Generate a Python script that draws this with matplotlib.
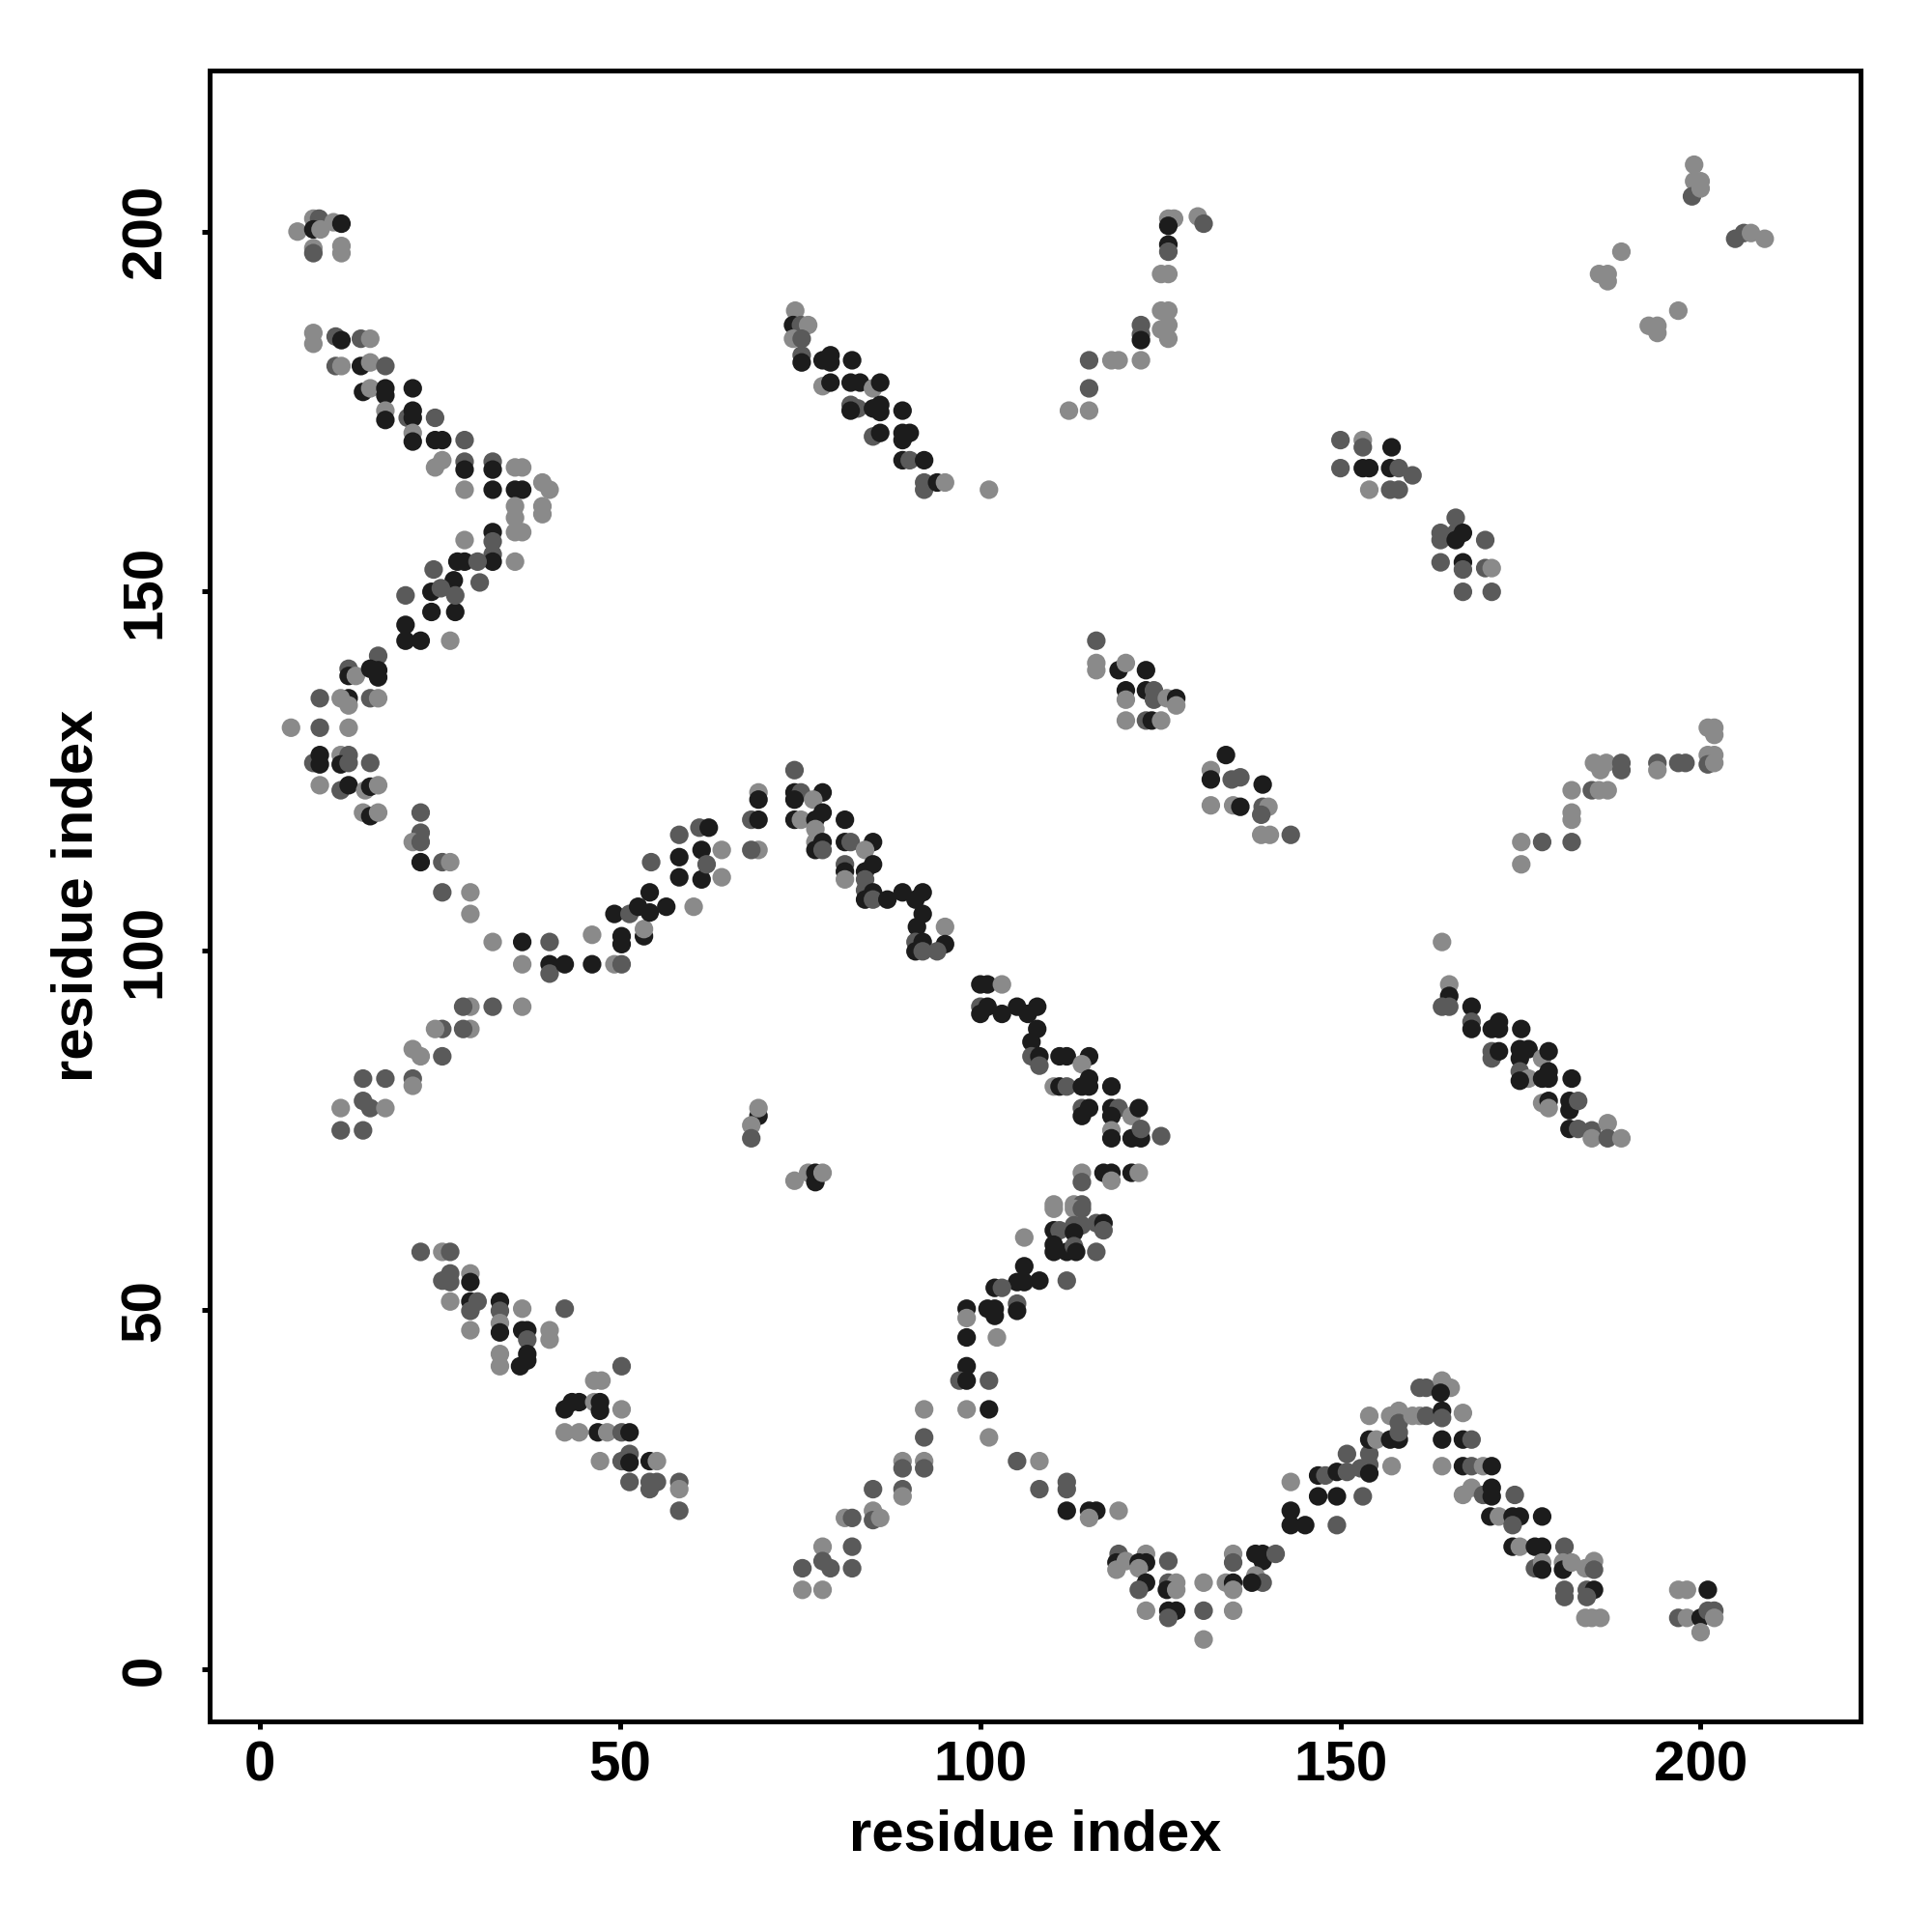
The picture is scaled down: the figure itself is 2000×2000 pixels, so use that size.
import matplotlib
matplotlib.use("Agg")
import matplotlib.pyplot as plt

# contact points: (residue i, residue j, shade)
# shade: d = dark, m = mid grey, l = light grey
top_left_cap = [(5.2,200.0,'l'),(7.4,201.8,'l'),(8.2,201.8,'m'),(7.4,200.3,'d'),(8.4,200.3,'l'),
    (10.2,201.3,'l'),(11.3,201.1,'d'),(7.4,197.7,'l'),(7.4,197.0,'m'),(11.3,198.0,'l'),(11.3,197.0,'l')]

top_left_diag = [(7.4,185.9,'l'),(7.4,184.4,'l'),(10.5,185.4,'m'),(11.3,184.9,'d'),(14.0,185.1,'m'),(15.3,185.1,'l'),
    (10.5,181.3,'m'),(11.3,181.3,'l'),(14.0,181.3,'d'),(15.3,181.8,'l'),(17.4,181.3,'m'),
    (14.3,177.7,'d'),(15.3,178.2,'l'),(17.4,178.2,'d'),(17.4,177.2,'d'),(21.2,178.2,'d'),
    (17.4,175.1,'l'),(17.4,173.8,'d'),(20.5,174.1,'m'),(21.2,175.1,'d'),(21.2,174.1,'d'),(24.3,174.1,'m'),
    (21.2,172.0,'l'),(21.2,170.8,'d'),(24.3,171.0,'d'),(25.3,171.0,'d'),(28.4,171.0,'m'),
    (24.3,167.2,'l'),(25.3,168.2,'l'),(28.4,168.0,'m'),(28.4,166.9,'d'),(32.3,168.0,'m'),(32.3,166.9,'d'),
    (35.4,167.2,'l'),(36.4,167.2,'l'),(28.4,164.1,'l'),(32.3,164.1,'d'),(35.4,164.1,'d'),(36.4,164.1,'d'),
    (39.2,165.1,'l'),(40.2,164.1,'l'),(35.4,161.8,'l'),(35.4,160.2,'l'),(39.2,161.8,'l'),(39.2,160.7,'l')]

top_left_arm = [(32.3,158.2,'d'),(32.3,156.9,'m'),(35.4,158.2,'l'),(36.4,158.2,'l'),(32.3,155.1,'m'),(32.3,154.1,'d'),
    (35.4,154.1,'l'),(28.4,157.1,'l'),(24.1,153.0,'m'),(27.4,154.1,'d'),(28.4,154.1,'d'),(30.2,154.1,'m'),
    (30.5,151.2,'m'),(26.9,151.5,'d'),(23.8,149.9,'d'),(25.1,150.4,'m'),(27.1,147.1,'d'),(23.8,147.1,'d'),
    (27.1,149.4,'m'),(20.2,149.4,'m'),(20.2,145.3,'d')]

left_arc = [(20.2,143.1,'d'),(22.3,143.1,'d'),(26.4,143.1,'l'),
    (16.4,141.0,'m'),(12.3,139.2,'m'),(12.3,138.2,'d'),(13.3,138.2,'l'),(15.3,139.2,'d'),(16.4,139.0,'d'),(16.4,138.0,'d'),
    (8.3,135.1,'m'),(12.3,135.1,'d'),(11.2,135.1,'l'),(12.3,134.1,'l'),(15.3,135.1,'m'),(16.4,135.1,'l'),
    (4.3,131.0,'l'),(8.3,131.0,'m'),(12.3,131.0,'l'),
    (7.4,126.1,'m'),(8.3,127.2,'d'),(8.3,125.9,'d'),(11.2,127.2,'l'),(12.3,127.2,'m'),(11.2,125.9,'d'),(12.3,126.1,'m'),(15.3,126.1,'m'),
    (8.3,123.0,'l'),(11.2,122.3,'m'),(12.3,123.0,'d'),(14.6,122.3,'l'),(15.3,122.8,'d'),(16.4,123.0,'l'),
    (14.3,119.2,'l'),(15.3,118.7,'d'),(16.4,119.2,'l'),
    (22.3,119.2,'m'),(22.3,116.4,'m'),(21.2,115.1,'l'),(22.3,115.1,'m'),
    (22.3,112.3,'d'),(25.3,112.3,'m'),(26.4,112.3,'l'),
    (25.3,108.1,'m'),(29.2,108.1,'l'),(29.2,105.1,'l'),
    (32.3,101.2,'l'),(36.4,101.2,'d'),(40.2,101.2,'m'),
    (36.4,98.1,'l'),(40.2,98.1,'d'),(40.2,96.8,'m'),(42.3,98.1,'d')]

middle_arc = [(46.1,98.1,'d'),(49.2,98.1,'l'),(50.2,98.1,'m'),(46.1,102.2,'l'),
    (49.2,105.1,'d'),(50.2,102.0,'d'),(50.2,100.9,'d'),(51.3,105.1,'m'),(53.3,102.0,'d'),(53.3,103.0,'l'),
    (52.5,106.1,'d'),(54.1,108.1,'d'),(54.1,105.3,'d'),(56.4,106.1,'d'),(60.2,106.1,'l'),
    (54.3,112.3,'m'),(58.2,116.1,'m'),(58.2,113.0,'d'),(58.2,110.2,'d'),(61.0,117.1,'m'),(62.3,117.1,'d'),
    (61.3,114.0,'d'),(61.3,109.9,'d'),(64.1,114.0,'l'),(64.1,110.2,'l'),(62.0,112.0,'m'),
    (68.2,118.2,'m'),(69.2,122.0,'l'),(69.2,121.0,'d'),(69.2,118.2,'d'),(69.2,114.0,'l'),(68.2,114.0,'m')]

lower_left_arm = [(36.4,92.2,'l'),(32.3,92.2,'m'),(29.2,92.2,'l'),(28.2,92.2,'m'),(29.2,89.1,'l'),(28.2,89.1,'m'),
    (25.3,89.1,'m'),(24.3,89.1,'l'),(21.2,86.3,'l'),(22.3,85.3,'l'),(25.3,85.3,'m'),(21.2,82.2,'m'),(21.2,81.2,'l'),
    (17.4,82.2,'m'),(14.3,82.2,'m'),(14.3,79.1,'m'),(15.3,78.1,'m'),(17.4,78.1,'l'),(11.2,78.1,'l'),
    (11.2,75.0,'m'),(14.3,75.0,'m')]

isolated = [(69.2,77.0,'d'),(68.2,75.7,'l'),(68.2,73.9,'m'),(69.2,78.1,'l'),
    (74.2,68.0,'l'),(76.1,69.1,'l'),(77.1,69.1,'d'),(77.1,67.8,'d'),(78.1,69.1,'l'),
    (101.2,164.1,'l'),(164.1,101.2,'l')]

top_mid_diag = [(74.3,189.0,'l'),(74.0,187.0,'d'),(75.1,187.0,'m'),(76.1,187.0,'l'),(74.0,185.1,'l'),(75.2,185.1,'m'),
    (75.2,182.8,'m'),(75.2,181.8,'d'),(78.1,182.1,'d'),(79.2,182.8,'d'),(79.2,181.8,'d'),(82.2,182.1,'d'),
    (78.1,178.5,'l'),(79.2,179.0,'d'),(82.0,179.0,'d'),(83.3,179.0,'d'),(85.1,178.2,'l'),(86.1,179.0,'d'),
    (82.0,175.9,'m'),(83.0,175.4,'m'),(82.0,175.1,'d'),(85.1,175.4,'d'),(86.1,175.9,'d'),(86.1,174.9,'d'),(89.2,175.1,'d'),
    (85.1,171.5,'m'),(86.1,172.0,'d'),(89.2,172.0,'d'),(90.2,172.0,'d'),(89.2,171.0,'d'),
    (89.2,168.2,'d'),(90.2,168.2,'m'),(92.2,168.2,'d'),
    (92.2,165.1,'m'),(92.2,164.1,'m'),(94.0,165.1,'d'),(95.1,165.1,'l')]

top_mid_arm = [(126.1,201.8,'l'),(126.9,201.8,'l'),(126.1,200.8,'d'),(130.2,202.1,'l'),(131.0,201.1,'m'),
    (126.1,198.2,'d'),(126.1,197.2,'m'),(125.1,194.1,'l'),(126.1,194.1,'l'),
    (125.1,189.0,'l'),(126.1,189.0,'l'),(125.1,186.4,'l'),(126.1,187.0,'l'),(126.1,185.1,'l'),
    (122.3,187.0,'m'),(122.3,185.7,'m'),(122.3,184.9,'d'),
    (115.1,182.1,'m'),(118.2,182.1,'l'),(119.2,182.1,'l'),(122.3,182.1,'l'),
    (115.1,178.2,'m'),(112.3,175.1,'l'),(115.1,175.1,'l')]

top_right = [(199.1,209.3,'l'),(199.1,207.0,'l'),(200.0,207.0,'l'),(198.8,204.9,'m'),(200.0,206.0,'l'),
    (204.8,199.0,'m'),(206.0,199.8,'m'),(207.0,199.8,'l'),(208.9,199.0,'l'),
    (189.0,197.2,'l'),(185.9,194.1,'l'),(187.1,194.1,'l'),(187.1,193.1,'l'),
    (196.9,189.0,'l'),(192.8,186.9,'l'),(194.0,186.9,'l'),(194.0,185.9,'l')]

right_blocks = [(150.0,171.0,'m'),(153.1,171.0,'l'),(153.1,170.0,'m'),(157.1,170.0,'d'),
    (150.0,167.1,'m'),(153.1,167.1,'d'),(154.0,167.1,'d'),(156.9,167.1,'d'),(158.1,167.1,'m'),(160.0,166.1,'m'),
    (154.0,164.1,'l'),(156.9,164.1,'m'),(158.1,164.1,'m'),
    (166.0,160.2,'m'),(163.9,158.1,'m'),(166.0,158.1,'m'),(167.0,158.1,'d'),(163.9,157.1,'m'),(166.0,157.1,'d'),
    (170.1,157.1,'m'),(163.9,154.0,'m'),(167.0,154.0,'d'),(167.0,153.0,'m'),(170.1,153.2,'m'),(171.0,153.2,'l'),
    (167.0,149.9,'m'),(171.0,149.9,'m')]

mid_blocks = [(116.1,143.1,'m'),(116.1,140.0,'l'),(116.1,139.0,'l'),(119.2,139.0,'d'),(120.2,140.0,'l'),(123.0,139.0,'d'),
    (120.2,136.2,'d'),(120.2,134.9,'l'),(123.0,136.2,'d'),(124.1,136.2,'m'),(124.1,134.9,'m'),(125.9,135.1,'l'),
    (127.2,135.1,'d'),(127.2,134.1,'l'),(120.2,132.0,'l'),(123.0,132.0,'m'),(123.8,132.0,'d'),(125.1,132.0,'l'),
    (134.1,127.2,'d'),(132.0,125.1,'l'),(132.0,123.8,'d'),(134.9,123.8,'m'),(136.1,124.1,'m'),(139.2,123.1,'d'),
    (132.0,120.2,'l'),(135.1,120.2,'l'),(136.1,120.0,'d'),(139.2,120.0,'m'),(140.0,120.0,'l'),(139.0,118.9,'m'),
    (139.0,116.1,'l'),(140.2,116.1,'l'),(143.1,116.1,'m')]

mid_diag_a = [(74.2,125.1,'m'),(74.2,122.0,'d'),(75.1,122.0,'m'),(78.1,122.0,'d'),(74.2,121.0,'d'),(76.8,121.0,'l'),
    (74.2,118.2,'d'),(75.1,118.2,'l'),(77.1,118.2,'d'),(78.1,119.2,'d'),(81.2,118.2,'d'),(77.1,116.9,'l'),
    (77.1,115.1,'l'),(78.1,115.1,'d'),(77.1,114.0,'d'),(78.1,114.0,'m'),(81.2,115.1,'d'),(82.0,115.1,'m'),
    (85.1,115.1,'d'),(84.0,114.0,'l'),(81.2,112.0,'m'),(81.2,111.0,'d'),(81.2,109.9,'l'),(84.0,111.0,'d'),
    (85.1,112.0,'d'),(84.0,109.9,'m'),(84.0,108.4,'m'),(85.1,108.1,'d'),(84.0,107.1,'d'),(85.1,107.1,'m'),
    (87.1,107.1,'d'),(89.2,108.1,'d'),(92.0,108.1,'d'),(91.0,107.1,'d'),(92.0,105.1,'d'),(91.2,103.3,'d'),
    (95.1,103.3,'l'),(91.0,101.2,'m'),(92.0,101.2,'d'),(95.1,100.9,'d'),(91.0,99.9,'d'),(92.0,99.9,'m'),(94.0,99.9,'m')]

mid_diag_b = [(100.0,95.3,'d'),(101.0,95.3,'d'),(103.0,95.3,'l'),(100.0,92.2,'m'),(101.0,92.2,'d'),(100.0,91.2,'d'),
    (103.0,91.2,'d'),(105.1,92.2,'d'),(107.9,92.2,'d'),(106.6,91.2,'d'),(107.9,89.1,'d'),(107.1,87.3,'d'),
    (107.1,85.3,'m'),(108.2,85.3,'d'),(108.2,84.0,'m'),(111.0,85.3,'d'),(112.0,85.3,'d'),(115.1,85.3,'d'),(114.1,84.2,'l'),
    (110.2,81.1,'l'),(111.0,81.1,'d'),(112.0,81.1,'m'),(114.1,81.1,'d'),(115.1,82.2,'d'),(115.1,81.1,'d'),(118.2,81.1,'d'),
    (114.1,78.1,'m'),(114.1,77.0,'d'),(115.1,78.1,'d'),(118.2,78.1,'d'),(119.2,78.1,'m'),(118.2,77.0,'d'),
    (121.0,77.0,'l'),(122.0,78.1,'d'),(118.2,75.0,'l'),(118.2,73.9,'d'),(121.0,73.9,'d'),(122.3,73.9,'d'),
    (122.3,75.2,'m'),(125.1,74.2,'m'),
    (114.1,69.1,'l'),(114.1,67.8,'m'),(117.1,69.1,'d'),(118.2,69.1,'d'),(118.2,68.0,'l'),(121.0,69.1,'d'),(122.0,69.1,'l'),
    (110.2,64.7,'l'),(113.0,64.7,'l'),(114.1,64.7,'m')]

right_diag = [(165.1,95.3,'l'),(165.1,93.7,'d'),(164.1,92.2,'m'),(165.1,92.2,'m'),
    (168.2,92.2,'d'),(168.2,90.1,'m'),(168.2,89.1,'d'),(171.0,89.1,'d'),(172.0,90.1,'d'),(175.1,89.1,'d'),(172.0,89.1,'d'),
    (171.0,86.0,'m'),(171.0,85.0,'m'),(172.0,86.0,'d'),(174.9,86.3,'d'),(176.1,86.3,'d'),(174.9,85.0,'d'),
    (178.0,85.0,'l'),(178.9,86.0,'d'),(174.9,83.2,'m'),(176.1,82.2,'l'),(174.9,81.9,'d'),(178.0,82.2,'d'),
    (178.9,83.2,'d'),(178.9,82.2,'d'),(182.1,82.2,'d'),(178.0,78.8,'l'),(178.9,79.1,'d'),(178.9,78.1,'l'),
    (181.8,79.1,'d'),(181.8,77.8,'d'),(183.0,79.1,'m'),(181.8,75.2,'d'),(183.0,75.2,'m'),(184.9,75.0,'m'),
    (184.9,73.9,'l'),(187.1,76.0,'l'),(187.1,73.9,'m'),(189.0,73.9,'l')]

right_arm = [(201.0,131.0,'l'),(201.9,131.0,'l'),(201.9,130.0,'l'),(201.0,127.2,'l'),(201.9,127.2,'l'),
    (201.0,125.9,'m'),(201.9,126.1,'l'),(196.9,126.1,'m'),(197.9,126.1,'m'),(194.0,126.1,'m'),(194.0,125.1,'l'),
    (185.2,126.1,'l'),(186.9,126.1,'l'),(189.0,126.1,'m'),(186.1,125.1,'l'),(189.0,125.1,'m'),
    (182.1,122.3,'l'),(184.9,122.3,'m'),(185.9,122.3,'l'),(187.1,122.3,'l'),
    (182.1,119.2,'l'),(182.1,118.2,'l'),(182.1,115.1,'m'),(175.1,115.1,'l'),(178.0,115.1,'m'),(175.1,112.0,'l')]

bottom_left_diag = [(22.3,58.1,'m'),(25.3,58.1,'l'),(26.4,58.1,'m'),
    (25.3,54.1,'m'),(26.4,55.1,'m'),(26.4,53.9,'m'),(29.2,55.1,'l'),(29.2,53.9,'d'),
    (26.4,51.2,'l'),(29.2,51.2,'d'),(29.2,49.9,'m'),(30.2,51.2,'m'),(33.3,51.2,'d'),(33.3,49.9,'m'),(36.4,50.2,'l'),(42.3,50.2,'m'),
    (29.2,47.2,'l'),(33.3,48.2,'l'),(33.3,46.9,'d'),(36.4,47.2,'d'),(37.1,47.2,'d'),(37.1,45.9,'m'),(40.2,47.2,'l'),(40.2,45.9,'l'),
    (33.3,43.9,'l'),(33.3,42.2,'l'),(37.1,43.9,'d'),(37.1,43.0,'d'),(36.1,42.2,'d'),
    (50.2,42.2,'m'),(46.4,40.2,'l'),(47.4,40.2,'l'),
    (42.3,36.2,'d'),(43.3,37.2,'d'),(44.3,37.2,'d'),(46.4,37.2,'l'),(47.2,37.2,'d'),(47.2,36.0,'d'),(50.2,36.2,'l'),
    (42.3,33.0,'l'),(44.3,33.0,'l'),(46.9,33.0,'d'),(48.2,33.0,'l'),(50.2,33.0,'m'),(51.3,33.0,'d'),
    (47.2,29.0,'l'),(50.2,29.0,'m'),(51.3,30.0,'m'),(51.3,28.8,'d'),(54.1,29.0,'d'),(55.1,29.0,'l'),
    (51.3,26.1,'m'),(54.1,26.1,'m'),(54.1,25.1,'m'),(55.1,26.1,'m'),(58.2,26.1,'m'),(58.2,25.1,'l'),(58.2,22.1,'m')]

bottom_mid_up = [(110.2,64.1,'l'),(113.0,64.1,'l'),(114.1,64.1,'m'),
    (110.2,61.1,'d'),(111.0,61.1,'m'),(113.0,61.8,'m'),(114.1,61.8,'m'),(113.0,60.8,'d'),(116.1,62.1,'m'),(117.1,62.1,'d'),(117.1,61.1,'m'),
    (110.2,59.1,'d'),(110.2,58.1,'d'),(112.0,58.1,'d'),(113.0,58.9,'m'),(113.3,58.1,'d'),(116.1,58.1,'m'),
    (112.0,54.1,'m'),(106.1,60.1,'l'),(106.1,56.1,'d'),(105.1,53.9,'d'),(106.1,53.9,'d'),(108.2,54.1,'d'),
    (102.0,53.1,'d'),(103.0,53.1,'m'),(105.1,50.9,'m'),(105.1,49.9,'d'),
    (98.1,50.2,'d'),(98.1,48.9,'l'),(101.0,50.2,'d'),(102.0,50.2,'d'),(102.0,49.2,'d'),(102.3,46.2,'l'),
    (98.1,46.2,'d'),(98.1,42.2,'d'),(97.1,40.2,'m'),(98.1,40.2,'d'),(101.2,40.2,'m'),
    (98.1,36.2,'l'),(101.2,36.2,'d'),(101.2,32.3,'l')]

bottom_mid_left = [(92.2,36.2,'l'),(92.2,32.3,'m'),(89.2,29.0,'l'),(92.2,29.0,'l'),(89.2,28.0,'m'),(92.2,28.0,'m'),
    (89.2,25.1,'m'),(89.2,24.1,'l'),(85.1,25.1,'m'),(81.2,21.1,'l'),(82.2,21.1,'m'),(85.1,22.1,'l'),(85.1,20.8,'m'),
    (86.1,21.1,'l'),(78.1,17.1,'l'),(82.2,17.1,'m'),(78.1,15.1,'m'),(79.2,14.1,'m'),(75.3,14.1,'m'),(82.2,14.1,'m'),
    (75.3,11.1,'l'),(78.1,11.1,'l')]

bottom_mid_right = [(105.1,29.0,'m'),(108.2,29.0,'l'),(108.2,25.1,'m'),(112.0,26.1,'m'),(112.0,25.1,'m'),
    (112.0,22.1,'d'),(115.1,22.1,'d'),(116.1,22.1,'d'),(115.1,21.1,'l'),(119.2,22.1,'l'),
    (119.2,16.1,'m'),(118.9,14.9,'d'),(120.2,15.1,'l'),(123.0,16.1,'l'),(122.0,14.9,'d'),(123.0,14.9,'d'),
    (126.1,15.1,'m'),(118.9,13.9,'l'),(122.0,14.1,'l'),(123.0,12.1,'d'),(122.0,11.1,'m'),(126.1,12.1,'m'),
    (127.2,12.1,'l'),(125.9,11.1,'d'),(127.2,11.1,'l'),(123.0,8.2,'l'),(126.1,8.2,'d'),(127.2,8.2,'d'),(126.1,7.2,'m'),
    (131.0,12.1,'l'),(131.0,8.2,'m'),(131.0,4.2,'l'),
    (134.1,12.1,'l'),(135.1,12.1,'d'),(135.1,11.1,'l'),(135.1,16.1,'l'),(135.1,14.9,'m'),(135.1,8.2,'l'),
    (138.2,16.1,'d'),(139.2,16.1,'d'),(139.2,15.1,'d'),(138.2,13.1,'l'),(139.2,12.1,'m'),(137.7,12.1,'d'),(141.0,16.1,'m'),
    (143.1,26.1,'l'),(143.1,22.1,'d'),(143.1,20.1,'d'),(145.1,20.1,'d'),
    (146.9,27.0,'d'),(146.9,24.1,'d'),(147.9,27.0,'m')]

bottom_right = [(149.5,27.5,'d'),(149.5,24.1,'d'),(149.5,20.1,'m'),(150.9,30.0,'m'),(150.9,27.5,'m'),(153.1,24.1,'m'),
    (152.8,28.0,'m'),(154.0,30.0,'m'),(154.0,28.5,'m'),(154.0,27.3,'d'),(154.0,32.0,'d'),(155.0,32.0,'l'),(154.0,35.3,'l'),
    (157.1,28.3,'l'),(156.9,32.0,'d'),(158.1,32.0,'d'),(156.9,35.3,'l'),(158.1,36.0,'l'),(158.1,34.3,'m'),(158.1,33.0,'m'),
    (160.0,35.3,'l'),(161.0,35.3,'l'),(161.9,35.3,'m'),(161.0,39.2,'m'),(161.9,39.2,'m'),
    (164.1,40.2,'l'),(165.3,39.2,'l'),(163.9,38.5,'d'),(164.1,36.0,'d'),(164.1,35.0,'m'),(164.1,32.0,'d'),(164.1,28.3,'l'),
    (167.0,35.7,'l'),(167.0,32.0,'d'),(168.2,32.0,'m'),(167.0,28.3,'d'),(168.2,28.3,'m'),(169.8,28.3,'l'),(171.0,28.3,'d'),
    (167.0,24.3,'l'),(168.2,25.3,'l'),(169.8,24.3,'m'),(171.0,25.3,'d'),(171.0,24.1,'d'),(174.2,24.3,'m'),
    (170.8,21.3,'d'),(172.0,21.3,'l'),(173.9,21.3,'d'),(174.9,21.3,'d'),(173.9,20.1,'m'),(178.0,21.3,'d'),
    (173.9,17.1,'d'),(174.9,17.1,'l'),(177.0,17.1,'d'),(178.0,17.1,'d'),(181.1,17.1,'m'),(177.0,14.1,'m'),
    (178.0,14.9,'l'),(178.0,13.9,'d'),(180.9,14.9,'l'),(180.9,13.9,'d'),(182.1,14.9,'l'),(184.0,14.1,'l'),
    (185.2,15.1,'l'),(185.2,13.9,'m'),(181.1,11.1,'m'),(181.1,10.1,'m'),(184.2,11.1,'m'),(185.2,11.1,'d'),(184.2,10.1,'m'),
    (184.0,7.2,'l'),(184.9,7.2,'l'),(186.1,7.2,'l'),
    (196.9,11.1,'l'),(198.1,11.1,'l'),(201.0,11.1,'d'),(196.9,7.2,'m'),(198.1,7.2,'l'),(200.0,7.2,'d'),
    (201.0,8.2,'m'),(201.9,8.2,'m'),(201.9,7.2,'l'),(200.0,5.2,'l')]

blocks = [top_left_cap, top_left_diag, top_left_arm, left_arc, middle_arc, lower_left_arm, isolated,
          top_mid_diag, top_mid_arm, top_right, right_blocks, mid_blocks, mid_diag_a, mid_diag_b,
          right_diag, right_arm, bottom_left_diag, bottom_mid_up, bottom_mid_left, bottom_mid_right, bottom_right]

shade_colors = {'l': '#8a8a8a', 'm': '#5a5a5a', 'd': '#1c1c1c'}

plt.rcParams['font.family'] = ['Liberation Sans', 'DejaVu Sans']
plt.rcParams['font.weight'] = 'bold'

fig = plt.figure(figsize=(10, 10), dpi=200)
ax = fig.add_axes([0.1085, 0.109, 0.8545, 0.8545])

for block in blocks:
    xs = [p[0] for p in block]
    ys = [p[1] for p in block]
    cs = [shade_colors[p[2]] for p in block]
    ax.scatter(xs, ys, s=48, c=cs, linewidths=0, zorder=2)

ax.set_xlim(-7.0, 222.2)
ax.set_ylim(-7.2, 222.4)
ax.set_xticks([0, 50, 100, 150, 200])
ax.set_yticks([0, 50, 100, 150, 200])

for sp in ax.spines.values():
    sp.set_linewidth(1.8)
ax.tick_params(axis='both', direction='out', length=3, width=1.8, labelsize=21)
ax.tick_params(axis='x', pad=4)
ax.tick_params(axis='y', pad=11, labelrotation=90)
for lab in ax.get_yticklabels():
    lab.set_va('center')
    lab.set_fontweight('bold')
for lab in ax.get_xticklabels():
    lab.set_fontweight('bold')

ax.set_xlabel('residue index', fontsize=21.5, fontweight='bold', labelpad=6)
ax.set_ylabel('residue index', fontsize=21.5, fontweight='bold', labelpad=6)

fig.savefig('out.png', dpi=200)
